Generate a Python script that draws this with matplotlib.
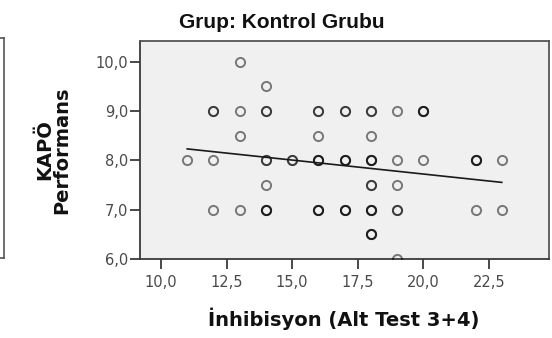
import numpy as np
import matplotlib
matplotlib.use("Agg")
import matplotlib.pyplot as plt
from matplotlib.lines import Line2D
from matplotlib.ticker import FuncFormatter

# Inhibition score, KAPÖ performance and number of children at each (x, y) pair
inhibisyon = [11, 12, 12, 12, 13, 13, 13, 13,
              14, 14, 14, 14, 14, 15,
              16, 16, 16, 16, 17, 17, 17,
              18, 18, 18, 18, 18, 18,
              19, 19, 19, 19, 19, 20, 20,
              22, 22, 23, 23]
performans = [8.0, 9.0, 8.0, 7.0, 10.0, 9.0, 8.5, 7.0,
              9.5, 9.0, 8.0, 7.5, 7.0, 8.0,
              9.0, 8.5, 8.0, 7.0, 9.0, 8.0, 7.0,
              9.0, 8.5, 8.0, 7.5, 7.0, 6.5,
              9.0, 8.0, 7.5, 7.0, 6.0, 9.0, 8.0,
              8.0, 7.0, 8.0, 7.0]
adet = [1, 2, 1, 1, 1, 1, 1, 1,
        1, 2, 2, 1, 3, 2,
        2, 1, 3, 3, 2, 3, 3,
        2, 1, 3, 2, 3, 3,
        1, 1, 1, 2, 1, 3, 1,
        3, 1, 1, 1]

x_ticks = [10.0, 12.5, 15.0, 17.5, 20.0, 22.5]
y_ticks = [6.0, 7.0, 8.0, 9.0, 10.0]

baslik = "Grup: Kontrol Grubu"
x_etiket = "İnhibisyon (Alt Test 3+4)"
y_etiket = "KAPÖ\nPerformans"

plt.rcParams["font.family"] = ["DejaVu Sans"]

fig = plt.figure(figsize=(5.52, 3.38), dpi=100)
W, H = 552, 338
ax = fig.add_axes([140 / W, 1 - 259 / H, (549 - 140) / W, (259 - 41) / H])
ax.set_facecolor("#f0f0f0")

x_all = np.repeat(inhibisyon, adet)
y_all = np.repeat(performans, adet)

# Overlapping cases darken the circle
ax.plot(x_all, y_all, linestyle="none", marker="o", markersize=6.6,
        markerfacecolor="none", markeredgecolor="black",
        markeredgewidth=1.4, alpha=0.5, clip_on=True, zorder=3)

# Least-squares fit line
b, a = np.polyfit(x_all, y_all, 1)
xf = np.array([min(inhibisyon), max(inhibisyon)])
ax.plot(xf, a + b * xf, color="#1a1a1a", linewidth=1.2, zorder=4)

ax.set_xlim(9.2, 24.8)
ax.set_ylim(6.0, 10.42)
ax.set_xticks(x_ticks)
ax.set_yticks(y_ticks)
fmt = FuncFormatter(lambda v, p: f"{v:.1f}".replace(".", ","))
ax.xaxis.set_major_formatter(fmt)
ax.yaxis.set_major_formatter(fmt)

for s in ax.spines.values():
    s.set_color("#3a3a3a")
    s.set_linewidth(1.3)
ax.spines["top"].set_color("#555555")
ax.spines["right"].set_color("#555555")

ax.tick_params(axis="both", direction="out", length=7.5, width=1.3,
               color="#3a3a3a", labelcolor="#4a4a4a", labelsize=10.5, pad=1.0)
ax.tick_params(axis="x", pad=4)

fig.text(282 / W, 1 - 23 / H, baslik, ha="center", va="center",
         fontsize=15, fontweight="bold", family=["Liberation Sans", "DejaVu Sans"],
         color="#111111")
fig.text(344 / W, 1 - 319 / H, x_etiket, ha="center", va="center",
         fontsize=14, fontweight="bold", color="#111111")
fig.text(53 / W, 1 - 150 / H, y_etiket, ha="center", va="center",
         rotation=90, fontsize=14, fontweight="bold", color="#111111",
         linespacing=0.9)

# Edge of the neighbouring panel
fx = 4 / W
fig.add_artist(Line2D([fx, fx], [1 - 38 / H, 1 - 258 / H], transform=fig.transFigure,
                      color="#555555", linewidth=1.2))
fig.add_artist(Line2D([0, fx], [1 - 38 / H, 1 - 38 / H], transform=fig.transFigure,
                      color="#555555", linewidth=1.2))
fig.add_artist(Line2D([0, fx], [1 - 258 / H, 1 - 258 / H], transform=fig.transFigure,
                      color="#555555", linewidth=1.2))

fig.savefig("out.png", dpi=100, facecolor="white")
